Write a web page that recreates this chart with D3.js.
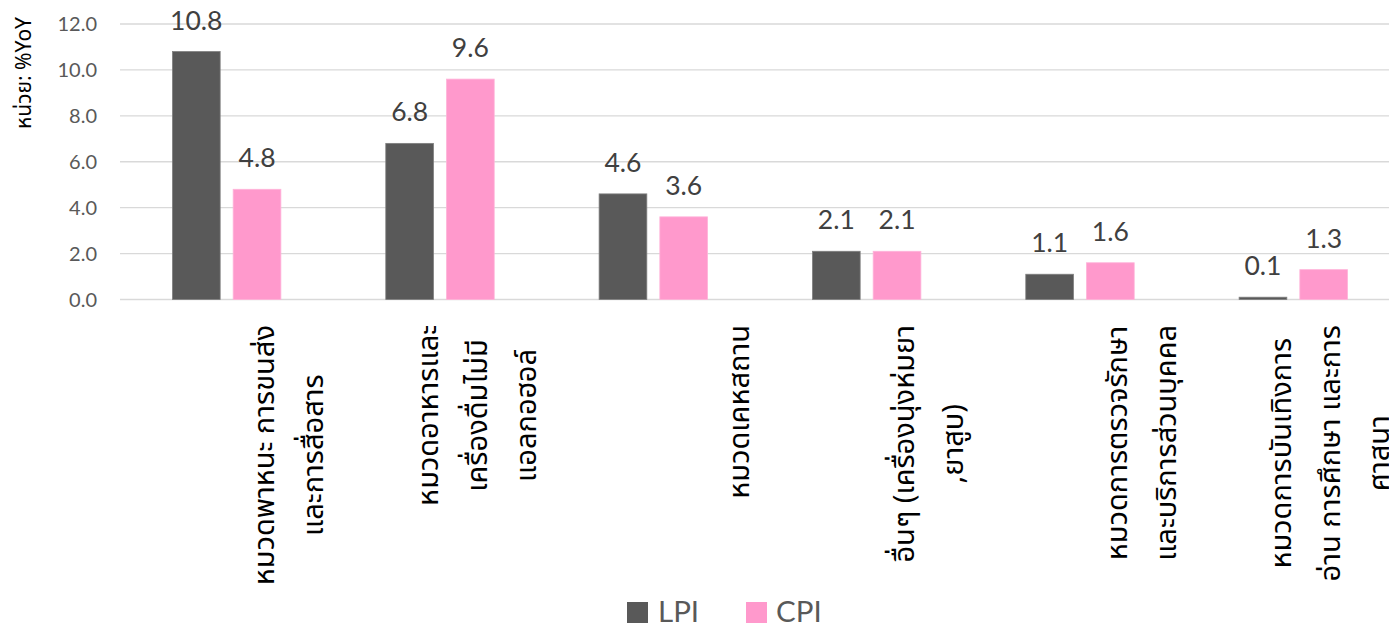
<!DOCTYPE html>
<html><head><meta charset="utf-8">
<script src="https://cdn.jsdelivr.net/npm/d3@7"></script>
<style>body{margin:0;background:#fff}svg{display:block}</style>
</head><body>
<svg id="c" width="1389" height="625"></svg>
<script>
const categories = ["c1","c2","c3","c4","c5","c6"];
const categoryLines = [
  ["หมวดพาหนะ การขนส่ง","และการสื่อสาร"],
  ["หมวดอาหารและ","เครื่องดื่มไม่มี","แอลกอฮอล์"],
  ["หมวดเคหสถาน"],
  ["อื่นๆ (เครื่องนุ่งห่มยา",",ยาสูบ)"],
  ["หมวดการตรวจรักษา","และบริการส่วนบุคคล"],
  ["หมวดการบันเทิงการ","อ่าน การศึกษา และการ","ศาสนา"]
];
const seriesNames = ["LPI","CPI"];
const lpi = [10.8, 6.8, 4.6, 2.1, 1.1, 0.1];
const cpi = [4.8, 9.6, 3.6, 2.1, 1.6, 1.3];
const yTicks = [0,2,4,6,8,10,12];
const yTitle = "หน่วย: %YoY";

const colors = {LPI:"#595959", CPI:"#ff99cc"};
const strokes = {LPI:"#7f7f7f", CPI:"#ffb3d9"};
const numFont = "Lato, 'Open Sans', sans-serif";
const thaiFont = "'Noto Sans Thai','Leelawadee UI',Tahoma,'DejaVu Sans',sans-serif";

const svg = d3.select("#c");
const pLeft = 120, pRight = 1400, pTop = 24, pBottom = 299.5;
const x = d3.scaleBand().domain(categories).range([pLeft, pRight]).paddingInner(0).paddingOuter(0);
const y = d3.scaleLinear().domain([0,12]).range([pBottom, pTop]);
const barW = x.bandwidth()*0.2236, barGap = x.bandwidth()*0.061;
const offs = {LPI: -barGap/2 - barW, CPI: barGap/2};
const data = seriesNames.map(s => ({s, vals: s==="LPI"?lpi:cpi}));

// gridlines
svg.append("g").selectAll("line").data(yTicks).join("line")
  .attr("x1", pLeft).attr("x2", 1389)
  .attr("y1", d=>y(d)).attr("y2", d=>y(d))
  .attr("stroke", "#d9d9d9").attr("stroke-width", 1.3);

// y tick labels
svg.append("g").selectAll("text").data(yTicks).join("text")
  .attr("x", 97).attr("y", d=>y(d)).attr("dy","0.36em")
  .attr("text-anchor","end").attr("font-family", numFont).attr("font-size", 20)
  .attr("fill","#595959").text(d=>d.toFixed(1));

// bars
data.forEach(ser => {
  const g = svg.append("g");
  g.selectAll("rect").data(ser.vals).join("rect")
    .attr("x", (d,i)=> x(categories[i]) + x.bandwidth()/2 + offs[ser.s])
    .attr("y", d=>y(d)).attr("width", barW).attr("height", d=> y(0)-y(d))
    .attr("fill", colors[ser.s]).attr("stroke", strokes[ser.s]).attr("stroke-width", 0.8);
  g.selectAll("text").data(ser.vals).join("text")
    .attr("x", (d,i)=> x(categories[i]) + x.bandwidth()/2 + offs[ser.s] + barW/2)
    .attr("y", d=>y(d) - 22)
    .attr("text-anchor","middle").attr("font-family", numFont).attr("font-size", 26.5)
    .attr("fill","#404040").text(d=>d.toFixed(1));
});

// category labels
const lab = svg.append("g");
categoryLines.forEach((lines, i) => {
  const cx = x(categories[i]) + x.bandwidth()/2;
  const n = lines.length;
  const tmp = lines.map(t => lab.append("text").attr("font-family", thaiFont).attr("font-size", 29).attr("fill","#000").text(t));
  const maxLen = d3.max(tmp, t => t.node().getComputedTextLength());
  tmp.forEach((t, j) => {
    const bx = cx + 96 - (n-1-j)*49;
    t.attr("text-anchor","middle").attr("transform", `translate(${bx},${325 + maxLen/2}) rotate(-90)`);
  });
});

// y title
svg.append("text").attr("transform","translate(31,73) rotate(-90)")
  .attr("text-anchor","middle").attr("font-family", thaiFont).attr("font-size", 21)
  .attr("fill","#000").text(yTitle);

// legend
const leg = svg.append("g");
const legItems = [{s:"LPI", sx:627, tx:658},{s:"CPI", sx:746, tx:776}];
legItems.forEach(it => {
  leg.append("rect").attr("x", it.sx).attr("y", 602).attr("width", 21).attr("height", 21).attr("fill", colors[it.s]);
  leg.append("text").attr("x", it.tx).attr("y", 622).attr("font-family", numFont).attr("font-size", 29.5)
    .attr("fill","#595959").text(it.s);
});
</script>
</body></html>
